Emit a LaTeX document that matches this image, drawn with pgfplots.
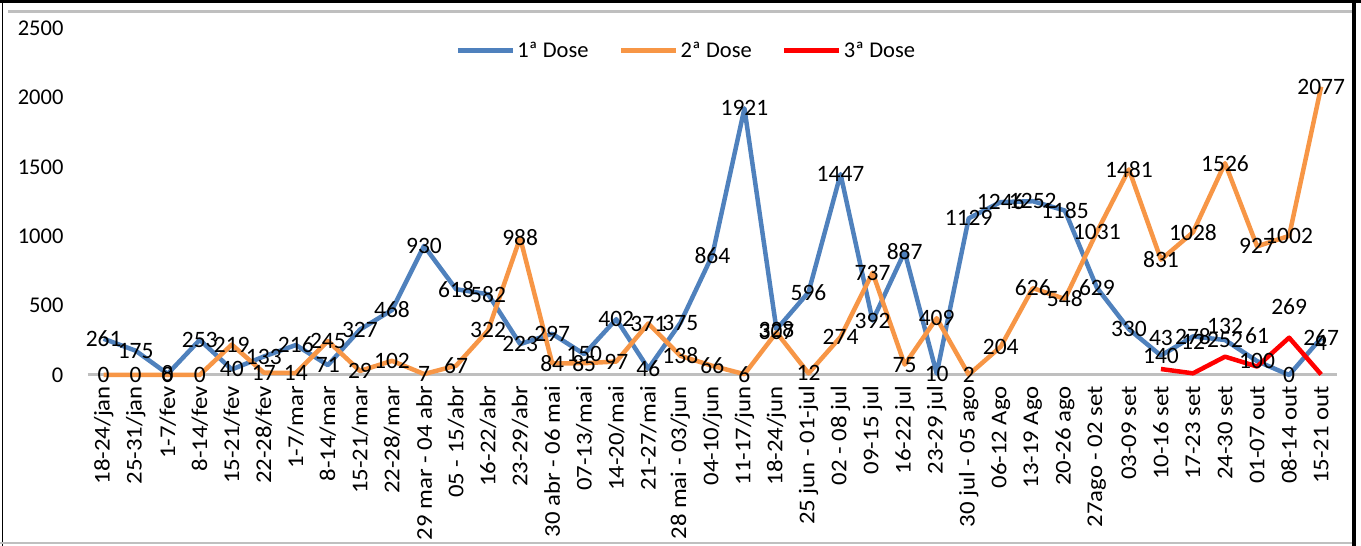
\documentclass[border=0pt]{standalone}
\usepackage{fontspec}
\setmainfont{Carlito}
\newfontfamily\xtfont[FakeStretch=1.1]{Carlito}
\usepackage{pgfplots}
\usepackage{pgfplotstable}
\pgfplotsset{compat=1.18}
\definecolor{b1}{HTML}{4F81BD}
\definecolor{o2}{HTML}{F79646}
\definecolor{r3}{HTML}{FF0000}
\definecolor{zl}{HTML}{BFBFBF}
\newcommand\fsz{\fontsize{22.5}{26}\selectfont}
\newcommand\fdl{\fontsize{23.5}{27}\selectfont}
\newcommand\fxt{\xtfont\fontsize{22.5}{26}\selectfont}

\pgfplotstableread{
idx d1 d2 d3
0 261 0 nan
1 175 0 nan
2 8 0 nan
3 253 0 nan
4 40 219 nan
5 133 17 nan
6 216 14 nan
7 71 245 nan
8 327 29 nan
9 468 102 nan
10 930 7 nan
11 618 67 nan
12 582 322 nan
13 223 988 nan
14 297 84 nan
15 150 85 nan
16 402 97 nan
17 46 371 nan
18 375 138 nan
19 864 66 nan
20 1921 6 nan
21 328 307 nan
22 596 12 nan
23 1447 274 nan
24 392 737 nan
25 887 75 nan
26 10 409 nan
27 1129 2 nan
28 1246 204 nan
29 1252 626 nan
30 1185 548 nan
31 629 1031 nan
32 330 1481 nan
33 140 831 43
34 278 1028 12
35 252 1526 132
36 100 927 61
37 0 1002 269
38 267 2077 4
}\datatable

\begin{document}
\begin{tikzpicture}[x=1pt,y=1pt]
\path[use as bounding box] (0,0) rectangle (1361,546);
\begin{axis}[
  at={(87.6pt,171pt)}, anchor=south west, scale only axis,
  width=1249.6pt, height=347pt,
  xmin=-0.5, xmax=38.5, ymin=0, ymax=2500,
  clip=false,
  axis x line*=bottom, axis y line*=left,
  x axis line style={draw=zl, line width=3pt, -},
  y axis line style={draw=none},
  major tick length=0pt,
  xtick={0,...,38},
  xticklabels={18-24/jan,25-31/jan,1-7/fev,8-14/fev,15-21/fev,22-28/fev,1-7/mar,8-14/mar,15-21/mar,22-28/mar,29 mar - 04 abr,05 - 15/abr,16-22/abr,23-29/abr,30 abr - 06 mai,07-13/mai,14-20/mai,21-27/mai,28 mai - 03/jun,04-10/jun,11-17/jun,18-24/jun,25 jun - 01-jul,02 - 08 jul,09-15 jul,16-22 jul,23-29 jul,30 jul - 05 ago,06-12 Ago,13-19 Ago,20-26 ago,27ago - 02 set,03-09 set,10-16 set,17-23 set,24-30 set,01-07 out,08-14 out,15-21 out},
  xticklabel style={font=\fxt, rotate=90, anchor=east, inner sep=0pt},
  xticklabel shift=11pt,
  ytick={0,500,...,2500},
  yticklabel style={font=\fsz, anchor=east, inner sep=0pt, xshift=-24pt},
  /pgf/number format/assume math mode=true,
  /pgf/number format/1000 sep={},
  legend columns=3,
  legend style={draw=none, fill=none, font=\fsz, at={(0.479,0.935)}, anchor=center,
    /tikz/every even column/.append style={column sep=28pt},
    nodes={inner sep=2pt}},
  legend image code/.code={\draw[#1, line width=5pt] (0pt,0pt) -- (55pt,0pt);},
  every axis plot/.append style={line width=4.5pt, line join=round, mark=none},
]
\addplot[b1] table[x=idx, y=d1] {\datatable};
\addlegendentry{1ª Dose}
\addplot[o2] table[x=idx, y=d2] {\datatable};
\addlegendentry{2ª Dose}
\addplot[r3] table[x=idx, y=d3] {\datatable};
\addlegendentry{3ª Dose}

\addplot[draw=none, forget plot, nodes near coords, point meta=y,
  nodes near coords style={font=\fdl, anchor=center, inner sep=0pt, text=black}]
  table[x=idx, y=d1] {\datatable};
\addplot[draw=none, forget plot, nodes near coords, point meta=y,
  nodes near coords style={font=\fdl, anchor=center, inner sep=0pt, text=black}]
  table[x=idx, y=d2] {\datatable};
\addplot[draw=none, forget plot, nodes near coords, point meta=y,
  nodes near coords style={font=\fdl, anchor=center, inner sep=0pt, text=black, yshift=31pt}]
  table[x=idx, y=d3] {\datatable};
\end{axis}
\draw[black, line width=3pt] (0,544.5) -- (1361,544.5);
\draw[black, line width=1.2pt] (2.5,0) -- (2.5,546);
\draw[black, line width=4pt] (1354,0) -- (1354,546);
\draw[zl, line width=3pt] (8,534) -- (1352,534);
\draw[zl, line width=2pt] (0,3) -- (1352,3);
\end{tikzpicture}
\end{document}
